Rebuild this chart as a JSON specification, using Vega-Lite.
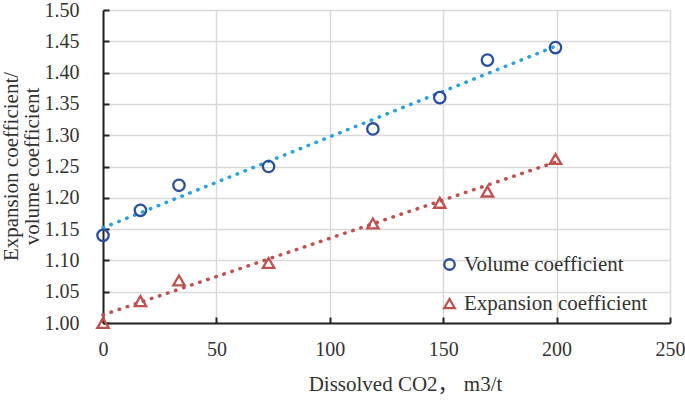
{
  "$schema": "https://vega.github.io/schema/vega-lite/v6.json",
  "width": 567,
  "height": 313,
  "autosize": {"type": "none"},
  "padding": {"left": 103, "top": 10, "right": 15, "bottom": 78},
  "background": "white",
  "config": {
    "view": {"stroke": null},
    "font": "Liberation Serif",
    "axis": {
      "labelFont": "Liberation Serif",
      "titleFont": "Liberation Serif, Noto Sans CJK SC",
      "labelFontSize": 20,
      "titleFontSize": 21,
      "labelColor": "#333333",
      "titleColor": "#333333",
      "titleFontWeight": "normal",
      "gridColor": "#d9d9d9",
      "gridWidth": 1.5,
      "domainColor": "#222222",
      "domainWidth": 2,
      "tickColor": "#222222",
      "tickWidth": 2
    },
    "legend": {
      "labelFont": "Liberation Serif",
      "labelFontSize": 21,
      "labelColor": "#333333",
      "labelLimit": 400
    }
  },
  "datasets": {
    "points": [
      {"series": "Volume coefficient", "x": 0, "y": 1.14},
      {"series": "Volume coefficient", "x": 16.5, "y": 1.18},
      {"series": "Volume coefficient", "x": 33.5, "y": 1.22},
      {"series": "Volume coefficient", "x": 73, "y": 1.25},
      {"series": "Volume coefficient", "x": 119, "y": 1.31},
      {"series": "Volume coefficient", "x": 148.5, "y": 1.36},
      {"series": "Volume coefficient", "x": 169.5, "y": 1.42},
      {"series": "Volume coefficient", "x": 199.5, "y": 1.44},
      {"series": "Expansion coefficient", "x": 0, "y": 1.0},
      {"series": "Expansion coefficient", "x": 16.5, "y": 1.035},
      {"series": "Expansion coefficient", "x": 33.5, "y": 1.068},
      {"series": "Expansion coefficient", "x": 73, "y": 1.096},
      {"series": "Expansion coefficient", "x": 119, "y": 1.159},
      {"series": "Expansion coefficient", "x": 148.5, "y": 1.192},
      {"series": "Expansion coefficient", "x": 169.5, "y": 1.21},
      {"series": "Expansion coefficient", "x": 199.5, "y": 1.262}
    ],
    "trend": [
      {"series": "Volume coefficient", "x": 0, "y": 1.152},
      {"series": "Volume coefficient", "x": 199.5, "y": 1.442},
      {"series": "Expansion coefficient", "x": 0, "y": 1.013},
      {"series": "Expansion coefficient", "x": 199.5, "y": 1.257}
    ]
  },
  "encoding": {
    "x": {
      "field": "x",
      "type": "quantitative",
      "scale": {"domain": [0, 250], "nice": false},
      "axis": {
        "values": [0, 50, 100, 150, 200, 250],
        "title": "Dissolved CO2，  m3/t",
        "titlePadding": 14,
        "titleX": 302,
        "tickSize": -6,
        "labelPadding": 22,
        "labelFlush": false
      }
    },
    "y": {
      "field": "y",
      "type": "quantitative",
      "scale": {"domain": [1.0, 1.5], "nice": false, "zero": false},
      "axis": {
        "values": [1.0, 1.05, 1.1, 1.15, 1.2, 1.25, 1.3, 1.35, 1.4, 1.45, 1.5],
        "format": ".2f",
        "title": ["Expansion coefficient/", "volume coefficient"],
        "titleLineHeight": 21,
        "titleX": -82,
        "titleY": 156,
        "tickSize": -6,
        "labelPadding": 30,
        "labelFlush": false
      }
    }
  },
  "layer": [
    {
      "data": {"name": "trend"},
      "transform": [{"filter": "datum.series === 'Volume coefficient'"}],
      "mark": {"type": "line", "color": "#25a2df", "strokeWidth": 3.5, "strokeDash": [0.5, 8], "strokeCap": "round"}
    },
    {
      "data": {"name": "trend"},
      "transform": [{"filter": "datum.series === 'Expansion coefficient'"}],
      "mark": {"type": "line", "color": "#c0504d", "strokeWidth": 3.5, "strokeDash": [0.5, 8], "strokeCap": "round"}
    },
    {
      "data": {"name": "points"},
      "mark": {"type": "point", "filled": false, "size": 130, "strokeWidth": 2.3, "opacity": 1},
      "encoding": {
        "color": {
          "field": "series",
          "type": "nominal",
          "scale": {"domain": ["Volume coefficient", "Expansion coefficient"], "range": ["#2a4ea0", "#c0504d"]},
          "legend": {
            "title": null,
            "orient": "none",
            "legendX": 336,
            "legendY": 244,
            "padding": 0,
            "rowPadding": 17,
            "symbolSize": 110,
            "symbolStrokeWidth": 2.3,
            "labelOffset": 4
          }
        },
        "shape": {
          "field": "series",
          "type": "nominal",
          "scale": {"domain": ["Volume coefficient", "Expansion coefficient"], "range": ["circle", "triangle-up"]}
        }
      }
    }
  ]
}
